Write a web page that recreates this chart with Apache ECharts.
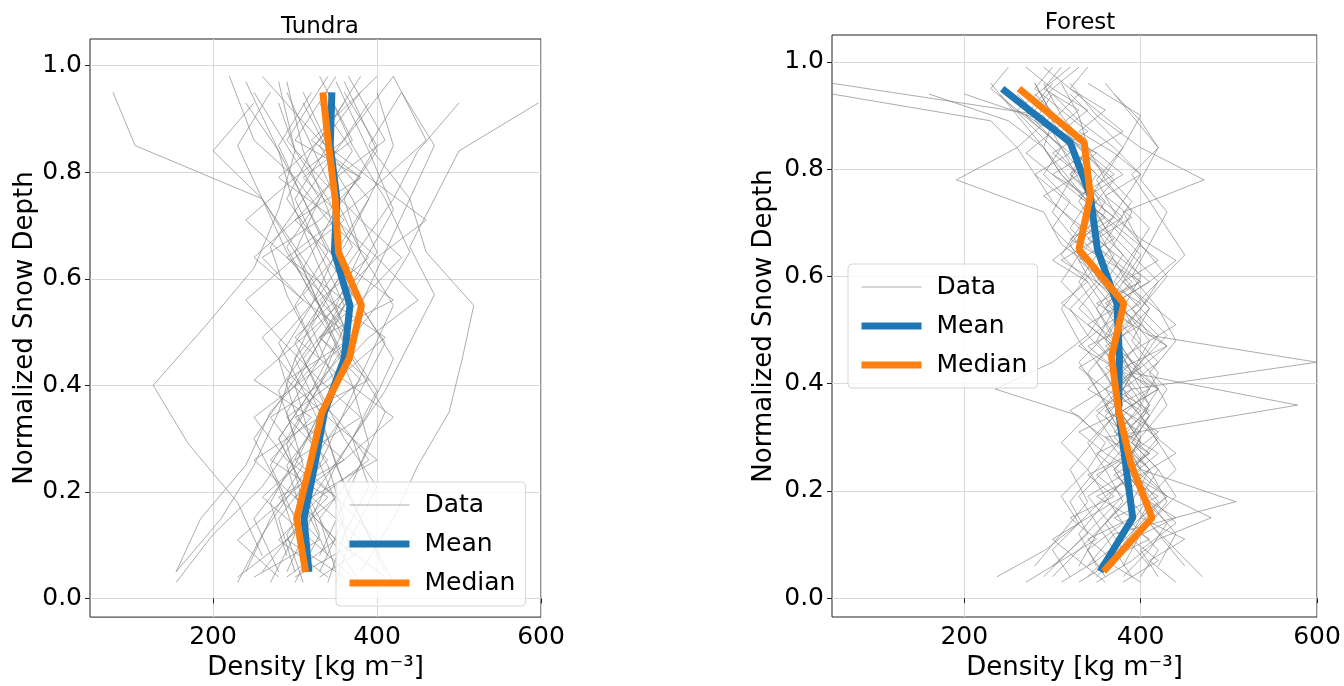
<!DOCTYPE html>
<html>
<head>
<meta charset="utf-8">
<script src="https://cdn.jsdelivr.net/npm/echarts@6/dist/echarts.min.js"></script>
<style>
  html, body { margin: 0; padding: 0; background: #fff; }
  #chart { width: 1344px; height: 686px; }
</style>
</head>
<body>
<div id="chart"></div>
<script>
// depth levels (normalized snow depth)
const binDepths = [0.05, 0.15, 0.25, 0.35, 0.45, 0.55, 0.65, 0.75, 0.85, 0.95];
const tDepthA = [0.05, 0.15, 0.25, 0.35, 0.45, 0.55, 0.65, 0.75, 0.85, 0.95];
const tDepthB = [0.03, 0.12, 0.21, 0.30, 0.39, 0.48, 0.57, 0.66, 0.75, 0.84, 0.93];
const tDepthC = [0.08, 0.18, 0.29, 0.40, 0.51, 0.62, 0.73, 0.84, 0.97];
const tDepthD = [0.04, 0.11, 0.19, 0.26, 0.34, 0.41, 0.49, 0.56, 0.64, 0.71, 0.79, 0.86, 0.98];
const fDepthA = [0.04, 0.09, 0.14, 0.19, 0.24, 0.29, 0.34, 0.39, 0.44, 0.49, 0.54, 0.59, 0.64, 0.69, 0.74, 0.79, 0.84, 0.89, 0.94];
const fDepthB = [0.06, 0.12, 0.18, 0.24, 0.30, 0.36, 0.42, 0.48, 0.54, 0.60, 0.66, 0.72, 0.78, 0.84, 0.90, 0.96];
const fDepthC = [0.03, 0.07, 0.11, 0.15, 0.19, 0.23, 0.27, 0.31, 0.35, 0.39, 0.43, 0.47, 0.51, 0.55, 0.59, 0.63, 0.67, 0.71, 0.75, 0.79, 0.83, 0.87, 0.91, 0.95, 0.99];

// tundra profiles, density bottom -> top
const tundraA = [
  [300, 280, 330, 360, 390, 420, 380, 350, 320, 290],
  [260, 310, 290, 340, 310, 360, 400, 370, 330, 380],
  [350, 330, 380, 410, 370, 340, 300, 330, 290, 250],
  [240, 270, 310, 290, 330, 360, 330, 300, 340, 310],
  [330, 360, 340, 300, 280, 320, 350, 390, 420, 400],
  [410, 380, 350, 390, 420, 380, 410, 440, 390, 430],
  [280, 250, 300, 330, 360, 330, 290, 260, 230, 270],
  [320, 300, 270, 310, 350, 400, 440, 410, 370, 340],
  [290, 320, 350, 330, 300, 350, 380, 360, 400, 360],
  [155, 210, 250, 280, 300, 330, 300, 260, 105, 78],
  [380, 420, 450, 488, 504, 518, 460, 440, 470, 430],
  [155, 185, 240, 270, 330, 300, 340, 310, 280, 320]
];
const tundraB = [
  [380, 340, 310, 280, 320, 370, 340, 300, 260, 200, 250],
  [310, 290, 330, 370, 400, 360, 320, 290, 330, 370, 330],
  [230, 260, 300, 340, 310, 280, 330, 370, 340, 300, 280],
  [350, 370, 400, 360, 330, 300, 340, 380, 420, 450, 500],
  [270, 300, 280, 250, 290, 330, 370, 330, 290, 320, 360],
  [420, 390, 360, 340, 380, 410, 370, 340, 310, 350, 390],
  [300, 330, 310, 280, 320, 350, 310, 360, 390, 340, 310],
  [340, 360, 390, 370, 410, 440, 470, 440, 470, 500, 597],
  [155, 200, 260, 300, 280, 320, 290, 270, 310, 280, 240]
];
const tundraC = [
  [340, 310, 290, 330, 360, 330, 300, 280, 240],
  [370, 350, 320, 300, 340, 380, 420, 390, 350],
  [290, 270, 310, 350, 320, 360, 340, 310, 290],
  [330, 360, 390, 370, 340, 310, 350, 400, 360],
  [260, 230, 170, 127, 190, 250, 280, 300, 280]
];
const tundraD = [
  [250, 330, 280, 360, 300, 390, 330, 420, 350, 300, 380, 320, 400],
  [360, 290, 340, 270, 320, 250, 310, 360, 290, 350, 280, 330, 260],
  [300, 380, 320, 400, 340, 290, 370, 310, 260, 330, 380, 300, 350],
  [410, 350, 300, 360, 420, 360, 300, 350, 400, 460, 390, 330, 380],
  [280, 230, 290, 340, 290, 350, 410, 340, 290, 240, 300, 360, 420],
  [330, 400, 350, 290, 250, 310, 370, 330, 390, 340, 300, 250, 220],
  [230, 290, 350, 300, 380, 330, 280, 240, 300, 360, 310, 370, 330],
  [370, 320, 260, 310, 270, 340, 390, 450, 400, 350, 410, 460, 420],
  [290, 350, 300, 250, 330, 380, 330, 380, 430, 380, 330, 290, 340],
  [340, 280, 330, 390, 350, 300, 260, 310, 250, 300, 350, 410, 365]
];
const tundraMean = [317, 311, 324, 336, 360, 367, 348, 351, 343, 345];
const tundraMedian = [313, 302, 318, 333, 366, 381, 353, 349, 341, 334];

// forest profiles, density bottom -> top
const forestA = [
  [300, 330, 360, 390, 370, 400, 380, 410, 390, 360, 380, 350, 370, 340, 360, 330, 300, 270, 240],
  [380, 410, 430, 400, 420, 390, 410, 430, 400, 420, 390, 360, 380, 350, 330, 350, 320, 300, 330],
  [340, 370, 350, 380, 410, 380, 360, 390, 370, 340, 360, 390, 360, 330, 350, 320, 340, 310, 280],
  [420, 400, 440, 410, 390, 420, 400, 370, 400, 380, 410, 380, 350, 370, 340, 360, 330, 290, 200],
  [360, 340, 380, 360, 400, 370, 350, 380, 420, 390, 360, 380, 400, 370, 390, 360, 380, 350, 320],
  [470, 440, 410, 440, 420, 390, 410, 380, 400, 430, 400, 370, 390, 360, 380, 350, 320, 290, 260],
  [290, 320, 350, 330, 360, 340, 370, 350, 330, 360, 340, 310, 330, 300, 320, 290, 310, 280, 300],
  [390, 370, 400, 430, 400, 380, 410, 390, 600, 410, 390, 420, 390, 410, 380, 400, 370, 330, 300],
  [350, 380, 360, 390, 370, 400, 380, 360, 390, 370, 350, 330, 350, 320, 340, 310, 290, 250, 160],
  [320, 300, 330, 360, 340, 310, 340, 370, 350, 380, 360, 340, 310, 330, 300, 280, 260, 230, 50],
  [400, 420, 390, 410, 440, 420, 400, 420, 390, 370, 400, 420, 450, 430, 410, 390, 420, 400, 370],
  [237, 292, 330, 310, 340, 360, 330, 235, 300, 340, 320, 350, 330, 360, 340, 310, 290, 300, 270]
];
const forestB = [
  [360, 390, 410, 380, 400, 370, 390, 360, 380, 350, 330, 300, 320, 290, 260, 230],
  [340, 370, 508, 400, 380, 410, 390, 370, 350, 380, 360, 340, 370, 330, 300, 280],
  [410, 380, 420, 390, 360, 578, 390, 410, 380, 400, 370, 390, 360, 340, 310, 290],
  [330, 350, 380, 360, 390, 410, 380, 350, 370, 340, 320, 350, 330, 310, 290, 50],
  [380, 400, 430, 410, 380, 360, 390, 370, 400, 430, 400, 380, 472, 400, 350, 320],
  [300, 340, 320, 350, 380, 360, 340, 370, 330, 360, 310, 290, 191, 260, 300, 280],
  [450, 420, 390, 410, 370, 400, 420, 390, 410, 380, 400, 370, 350, 380, 400, 340],
  [350, 330, 360, 390, 420, 390, 370, 400, 380, 350, 330, 360, 340, 310, 270, 300],
  [280, 310, 340, 320, 350, 380, 360, 330, 310, 340, 370, 350, 320, 340, 330, 310],
  [420, 440, 410, 380, 400, 430, 410, 440, 420, 390, 410, 430, 400, 420, 390, 360]
];
const forestC = [
  [330, 370, 340, 390, 350, 400, 360, 330, 380, 420, 370, 340, 390, 350, 400, 360, 320, 360, 330, 300, 340, 310, 280, 300, 270],
  [400, 360, 410, 370, 420, 380, 350, 400, 360, 410, 380, 430, 390, 360, 400, 370, 340, 380, 350, 320, 350, 300, 330, 290, 310],
  [270, 310, 350, 320, 370, 340, 390, 350, 320, 360, 400, 370, 340, 380, 350, 310, 350, 320, 290, 330, 300, 340, 310, 280, 300],
  [440, 410, 450, 400, 430, 390, 420, 380, 410, 370, 400, 430, 400, 370, 410, 380, 350, 390, 360, 400, 370, 330, 360, 320, 340],
  [360, 330, 300, 340, 380, 350, 390, 420, 380, 340, 370, 330, 360, 400, 360, 330, 370, 340, 310, 280, 320, 290, 260, 230, 250],
  [380, 420, 390, 440, 400, 370, 410, 380, 350, 390, 360, 400, 440, 410, 380, 420, 390, 360, 330, 370, 340, 380, 350, 320, 290],
  [310, 350, 380, 360, 340, 380, 410, 370, 400, 360, 330, 370, 340, 310, 340, 300, 330, 370, 340, 300, 270, 300, 260, 290, 320],
  [350, 390, 420, 480, 430, 400, 440, 410, 380, 420, 390, 360, 400, 370, 410, 440, 400, 370, 340, 380, 350, 310, 340, 300, 330]
];
const forestMean = [354, 391, 383, 375, 376, 373, 351, 343, 320, 243];
const forestMedian = [358, 413, 389, 375, 367, 381, 330, 343, 336, 262];

const xTicks = [200, 400, 600];
const yTicks = [0, 0.2, 0.4, 0.6, 0.8, 1.0];

const FONT = 'DejaVu Sans';
const DATA_COLOR = 'rgba(128,128,128,0.65)';

function profileSeries(groups, depths, axis) {
  return groups.map(vals => ({
    name: 'Data', type: 'line', xAxisIndex: axis, yAxisIndex: axis,
    data: vals.map((v, i) => [v, depths[i]]),
    symbol: 'none', silent: true,
    itemStyle: { color: DATA_COLOR },
    lineStyle: { color: DATA_COLOR, width: 1 }
  }));
}

function statSeries(name, vals, color, axis) {
  return {
    name: name, type: 'line', xAxisIndex: axis, yAxisIndex: axis,
    data: vals.map((v, i) => [v, binDepths[i]]),
    symbol: 'none', silent: true, z: 3,
    itemStyle: { color: color },
    lineStyle: { color: color, width: 7 }
  };
}

function xAxisOpt(idx) {
  return {
    type: 'value', gridIndex: idx, min: 50, max: 600,
    name: 'Density [kg m⁻³]', nameLocation: 'middle', nameGap: 32,
    nameTextStyle: { fontFamily: FONT, fontSize: 26, color: '#000' },
    axisLine: { show: false },
    axisTick: { show: true, inside: false, length: 5, lineStyle: { color: '#222' }, customValues: xTicks },
    axisLabel: { fontFamily: FONT, fontSize: 25, color: '#000', margin: 8, customValues: xTicks },
    splitLine: { show: true, lineStyle: { color: '#d8d8d8', width: 1 } }
  };
}

function yAxisOpt(idx, gap) {
  return {
    type: 'value', gridIndex: idx, min: -0.035, max: 1.05,
    name: 'Normalized Snow Depth', nameLocation: 'middle', nameGap: gap,
    nameTextStyle: { fontFamily: FONT, fontSize: 26, color: '#000' },
    axisLine: { show: false },
    axisTick: { show: true, inside: false, length: 5, lineStyle: { color: '#222' }, customValues: yTicks },
    axisLabel: { fontFamily: FONT, fontSize: 25, color: '#000', margin: 8, customValues: yTicks,
      formatter: v => v.toFixed(1) },
    splitLine: { show: true, lineStyle: { color: '#d8d8d8', width: 1 } }
  };
}

function legendOpt(left, top) {
  return {
    orient: 'vertical', left: left, top: top, selectedMode: false,
    padding: [8, 10], itemGap: 9, itemWidth: 60, itemHeight: 14,
    backgroundColor: 'rgba(255,255,255,0.8)', borderColor: '#d6d6d6', borderWidth: 1, borderRadius: 4,
    itemStyle: { opacity: 0 },
    textStyle: { fontFamily: FONT, fontSize: 25, color: '#000', lineHeight: 30, padding: [0, 0, 0, 10] },
    data: [
      { name: 'Data', lineStyle: { color: DATA_COLOR, width: 1 } },
      { name: 'Mean', lineStyle: { color: '#1f77b4', width: 7 } },
      { name: 'Median', lineStyle: { color: '#ff7f0e', width: 7 } }
    ]
  };
}

const chart = echarts.init(document.getElementById('chart'));
const series = [].concat(
  profileSeries(tundraA, tDepthA, 0),
  profileSeries(tundraB, tDepthB, 0),
  profileSeries(tundraC, tDepthC, 0),
  profileSeries(tundraD, tDepthD, 0),
  [statSeries('Mean', tundraMean, '#1f77b4', 0), statSeries('Median', tundraMedian, '#ff7f0e', 0)],
  profileSeries(forestA, fDepthA, 1),
  profileSeries(forestB, fDepthB, 1),
  profileSeries(forestC, fDepthC, 1),
  [statSeries('Mean', forestMean, '#1f77b4', 1), statSeries('Median', forestMedian, '#ff7f0e', 1)]
);

chart.setOption({
  animation: false,
  backgroundColor: '#fff',
  title: [
    { text: 'Tundra', left: 315, top: 11, textAlign: 'center',
      textStyle: { fontFamily: FONT, fontSize: 23, fontWeight: 'normal', color: '#000' } },
    { text: 'Forest', left: 1075, top: 7, textAlign: 'center',
      textStyle: { fontFamily: FONT, fontSize: 23, fontWeight: 'normal', color: '#000' } }
  ],
  legend: [legendOpt(336, 482), legendOpt(848, 264)],
  grid: [
    { left: 90, top: 39, width: 451, height: 581, show: true, borderColor: '#222', borderWidth: 1 },
    { left: 832, top: 35, width: 485, height: 582, show: true, borderColor: '#222', borderWidth: 1 }
  ],
  xAxis: [xAxisOpt(0), xAxisOpt(1)],
  yAxis: [yAxisOpt(0, 47), yAxisOpt(1, 55)],
  series: series
});
</script>
</body>
</html>
